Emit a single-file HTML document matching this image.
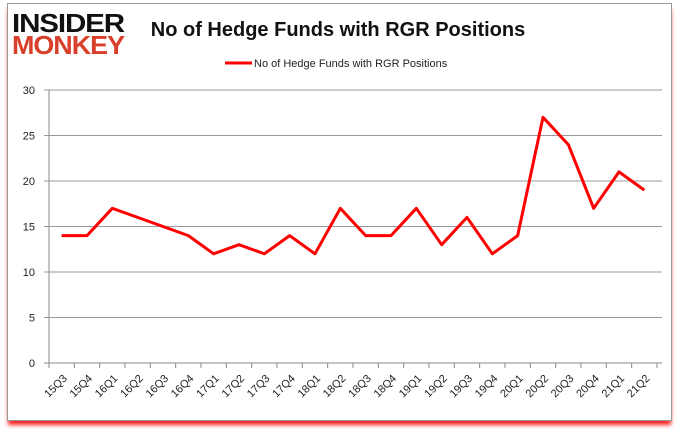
<!DOCTYPE html>
<html><head><meta charset="utf-8"><style>
body{margin:0;background:#fff;}
#wrap{position:relative;width:680px;height:433px;overflow:hidden;font-family:"Liberation Sans",sans-serif;}
#frame{position:absolute;left:7px;top:3px;width:663px;height:416px;border:1px solid #999;background:#fff;box-shadow:0 5px 4px -1px #f22;}
</style></head><body>
<div id="wrap">
<div id="frame"></div>
<svg id="chart" width="680" height="433" style="position:absolute;left:0;top:0">
<text x="12" y="32" font-size="26" font-weight="bold" fill="#111" font-family="Liberation Sans" letter-spacing="-1" textLength="112" lengthAdjust="spacingAndGlyphs">INSIDER</text>
<text x="12" y="54" font-size="26" font-weight="bold" fill="#d9402b" font-family="Liberation Sans" letter-spacing="-1" textLength="112" lengthAdjust="spacingAndGlyphs">MONKEY</text>
<text x="338" y="36" font-size="20" font-weight="bold" fill="#111" text-anchor="middle">No of Hedge Funds with RGR Positions</text>
<line x1="225" y1="63" x2="252" y2="63" stroke="#f00" stroke-width="3"/>
<text x="254" y="67" font-size="11" fill="#222">No of Hedge Funds with RGR Positions</text>
<g id="g"></g>
</svg></div>
<script>
const categories=["15Q3","15Q4","16Q1","16Q2","16Q3","16Q4","17Q1","17Q2","17Q3","17Q4","18Q1","18Q2","18Q3","18Q4","19Q1","19Q2","19Q3","19Q4","20Q1","20Q2","20Q3","20Q4","21Q1","21Q2"];
const values=[14,14,17,16,15,14,12,13,12,14,12,17,14,14,17,13,16,12,14,27,24,17,21,19];
const yTicks=[0,5,10,15,20,25,30];
const L=49,R=657,GR=662,T=90,B=363,yMax=30;
const band=(R-L)/categories.length;
const x=i=>L+band*(i+0.5);
const y=v=>B-(v/yMax)*(B-T);
const g=document.getElementById('g');
const NS='http://www.w3.org/2000/svg';
function mk(t,a){const e=document.createElementNS(NS,t);for(const k in a)e.setAttribute(k,a[k]);g.appendChild(e);return e;}
yTicks.forEach(v=>{
 const l=mk('line',{x1:L-5,x2:GR,y1:y(v),y2:y(v),stroke:v===0?'#888':'#999','stroke-width':1});
 
 
 const t=mk('text',{x:L-14,y:y(v)+4,'font-size':11,'text-anchor':'end',fill:'#222'});
 t.textContent=v;
 
 
});
const ax=mk('line',{x1:L,x2:L,y1:T,y2:B,stroke:'#888'});


categories.forEach((c,i)=>{
 const tk=mk('line',{x1:L+band*i,x2:L+band*i,y1:B,y2:B+5,stroke:'#888'});
 
 
 const cx=x(i)+6,cy=B+16;
 const t=mk('text',{x:cx,y:cy,'font-size':11,'text-anchor':'end',fill:'#222',transform:`rotate(-45 ${cx} ${cy})`});
 t.textContent=c;
 
 
});
const last=mk('line',{x1:R,x2:R,y1:B,y2:B+5,stroke:'#888'});


const p=mk('polyline',{points:values.map((v,i)=>x(i)+','+y(v)).join(' '),fill:'none',stroke:'#f00','stroke-width':3,'stroke-linejoin':'round'});


</script>
</body></html>
